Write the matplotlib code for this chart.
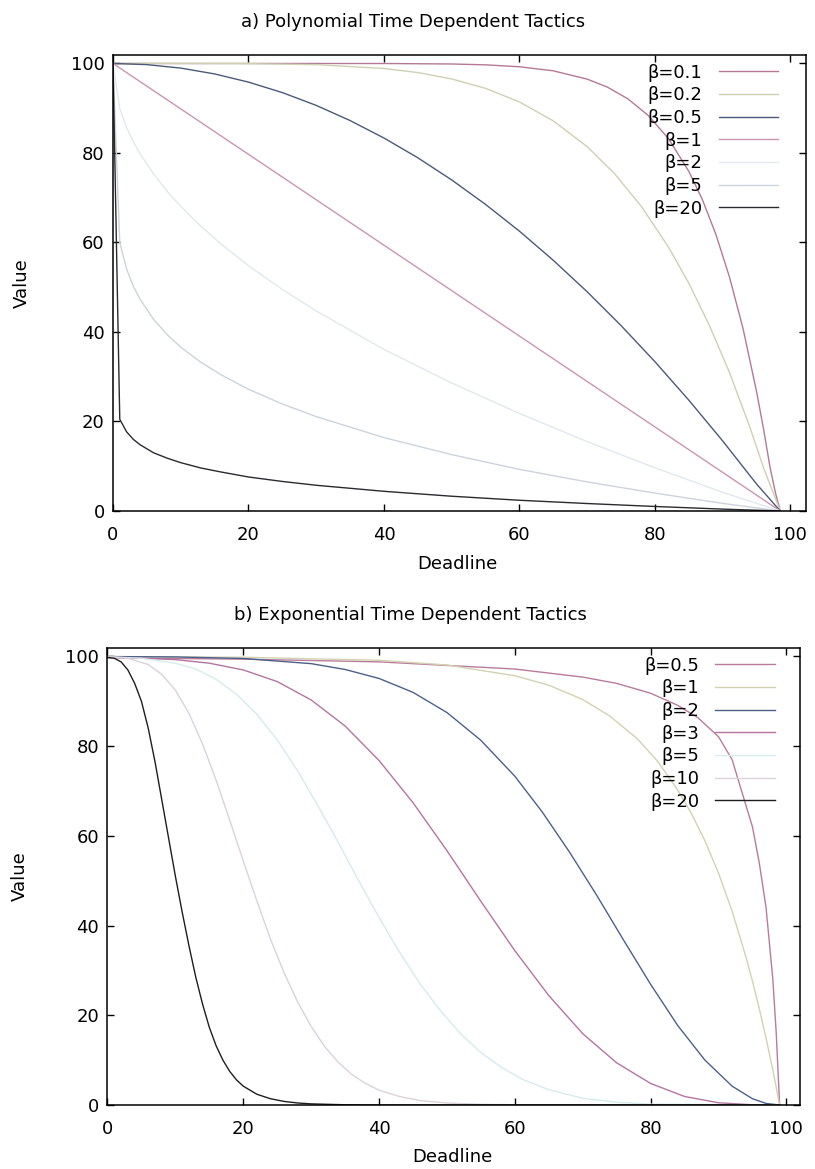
import matplotlib
matplotlib.use("Agg")
import matplotlib.pyplot as plt

plt.rcParams['font.family'] = ['DejaVu Sans']

# ---- a) polynomial tactics: deadline vs value (read off the plot) ----
poly_b01_t = [0, 40, 50, 55, 60, 65, 70, 73, 76, 79, 82, 85, 87, 89, 91, 93, 95, 96, 97, 97.8, 98.5]
poly_b01 = [100, 99.99, 99.88, 99.69, 99.26, 98.35, 96.5, 94.7, 92.1, 88.4, 83.2, 75.9, 69.6, 61.8,
            52.3, 40.8, 26.7, 18.6, 9.7, 4.0, 0]
poly_b02_t = [0, 20, 30, 40, 45, 50, 55, 60, 65, 70, 74, 78, 82, 85, 88, 91, 94, 96, 98.5]
poly_b02 = [100, 99.96, 99.73, 98.87, 97.96, 96.54, 94.43, 91.4, 87.16, 81.4, 75.45, 68.05, 58.98,
            50.9, 41.6, 30.96, 18.8, 9.8, 0]
poly_b05_t = [0, 5, 10, 15, 20, 25, 30, 35, 40, 45, 50, 55, 60, 65, 70, 75, 80, 85, 90, 95, 98.5]
poly_b05 = [100, 99.74, 98.96, 97.66, 95.83, 93.49, 90.63, 87.24, 83.34, 78.92, 73.97, 68.5, 62.52,
            56.01, 48.98, 41.43, 33.36, 24.77, 15.66, 6.03, 0]
poly_b1_t = [0, 98.5]
poly_b1 = [100, 0]
poly_b2_t = [0, 1, 2, 3, 4, 6, 8, 10, 13, 16, 20, 25, 30, 40, 50, 60, 70, 80, 90, 98.5]
poly_b2 = [100, 89.9, 85.7, 82.5, 79.8, 75.3, 71.4, 68.1, 63.6, 59.6, 54.8, 49.5, 44.7, 36.1, 28.6,
           21.8, 15.5, 9.65, 4.17, 0]
poly_b5_t = [0, 1, 2, 3, 4, 6, 8, 10, 13, 16, 20, 25, 30, 40, 50, 60, 70, 80, 90, 98.5]
poly_b5 = [100, 60.0, 54.1, 50.2, 47.3, 42.8, 39.4, 36.6, 33.2, 30.4, 27.2, 23.9, 21.1, 16.4, 12.6,
           9.3, 6.5, 4.0, 1.7, 0]
poly_b20_t = [0, 1, 2, 3, 4, 6, 8, 10, 13, 16, 20, 25, 30, 40, 50, 60, 70, 80, 90, 98.5]
poly_b20 = [100, 20.5, 17.7, 16.0, 14.8, 13.0, 11.8, 10.8, 9.6, 8.7, 7.6, 6.6, 5.75, 4.4, 3.3, 2.4,
            1.67, 1.01, 0.42, 0]
poly_labels = ['β=0.1', 'β=0.2', 'β=0.5', 'β=1', 'β=2', 'β=5', 'β=20']

# ---- b) exponential tactics ----
exp_b05_t = [0, 20, 40, 60, 70, 75, 80, 84, 87, 90, 92, 94, 95, 96, 97, 98, 98.5, 99]
exp_b05 = [99.7, 99.4, 98.8, 97.2, 95.4, 94.0, 91.8, 89.1, 86.3, 82.1, 77.0, 67.0, 62.0, 54.0, 44.0,
           28.0, 16.0, 0]
exp_b1_t = [0, 20, 40, 50, 60, 65, 70, 74, 78, 81, 84, 86, 88, 90, 92, 94, 95, 96, 97, 98, 99]
exp_b1 = [99.97, 99.83, 99.15, 98.1, 95.7, 93.6, 90.4, 86.7, 81.7, 76.7, 70.2, 65.0, 58.9, 51.7, 43.2,
          33.2, 27.6, 21.5, 14.9, 7.8, 0]
exp_b2_t = [0, 10, 20, 30, 35, 40, 45, 50, 55, 60, 64, 68, 72, 76, 80, 84, 88, 92, 95, 97, 99]
exp_b2 = [99.98, 99.9, 99.55, 98.4, 97.1, 95.1, 92.0, 87.5, 81.3, 73.3, 65.4, 56.5, 46.9, 36.8, 26.9,
          17.7, 10.0, 4.2, 1.4, 0.35, 0]
exp_b3_t = [0, 10, 15, 20, 25, 30, 35, 40, 45, 50, 55, 60, 65, 70, 75, 80, 85, 90, 95, 99]
exp_b3 = [99.9, 99.3, 98.5, 97.0, 94.4, 90.3, 84.5, 76.8, 67.4, 56.7, 45.4, 34.4, 24.4, 15.9, 9.4,
          4.8, 1.9, 0.5, 0.05, 0]
exp_b5_t = [0, 5, 10, 13, 16, 19, 22, 25, 28, 31, 34, 37, 40, 43, 46, 49, 52, 55, 58, 61, 65, 70,
            75, 80, 99]
exp_b5 = [99.93, 99.6, 98.5, 97.2, 94.9, 91.6, 87.1, 81.4, 74.5, 66.7, 58.5, 50.0, 41.8, 34.1, 27.1,
          21.1, 15.9, 11.7, 8.4, 5.8, 3.4, 1.5, 0.6, 0.2, 0]
exp_b10_t = [0, 3, 6, 8, 10, 12, 14, 16, 18, 20, 22, 24, 26, 28, 30, 32, 34, 36, 38, 40, 43, 46,
             50, 55, 60, 99]
exp_b10 = [99.94, 99.6, 98.2, 96.0, 92.5, 87.3, 80.5, 72.4, 63.5, 54.4, 45.5, 37.0, 29.5, 23.0, 17.5,
           13.0, 9.5, 6.8, 4.8, 3.3, 1.9, 1.0, 0.45, 0.15, 0.05, 0]
exp_b20_t = [0, 1, 2, 3, 4, 5, 6, 7, 8, 9, 10, 11, 12, 13, 14, 15, 16, 17, 18, 19, 20, 22, 24, 26,
             28, 30, 35, 40, 99]
exp_b20 = [99.8, 99.6, 98.8, 97.0, 94.0, 90.0, 84.0, 76.5, 68.0, 59.5, 51.0, 43.0, 35.5, 28.5, 22.5,
           17.3, 13.2, 10.0, 7.5, 5.6, 4.2, 2.4, 1.4, 0.8, 0.45, 0.25, 0.05, 0, 0]
exp_labels = ['β=0.5', 'β=1', 'β=2', 'β=3', 'β=5', 'β=10', 'β=20']

poly_colors = ['#b37a96', '#cfd0b2', '#4b5a78', '#c996b2', '#e2e8ee', '#cdd3dc', '#2a2a30']
exp_colors = ['#b97b9b', '#d2d2b2', '#4c6189', '#b474a2', '#d6ecec', '#dcd2da', '#1e1e1e']

W, H = 815, 1169
FS = 13
fig = plt.figure(figsize=(W / 100, H / 100), dpi=100)


def setup(ax, xmax):
    ax.set_xlim(0, xmax)
    ax.set_ylim(0, 102)
    ax.set_xticks(range(0, 101, 20))
    ax.set_yticks(range(0, 101, 20))
    ax.tick_params(direction='in', top=True, right=True, length=4.7, width=1, labelsize=FS)
    ax.tick_params(axis='x', pad=11)
    ax.tick_params(axis='y', pad=6)
    for sp in ax.spines.values():
        sp.set_linewidth(1.1)


# panel a sits slightly right of panel b (as on the scanned page)
ax1 = fig.add_axes([113 / W, 1 - 511 / H, 693 / W, 456.5 / H])
series1 = [(poly_b01_t, poly_b01), (poly_b02_t, poly_b02), (poly_b05_t, poly_b05), (poly_b1_t, poly_b1),
           (poly_b2_t, poly_b2), (poly_b5_t, poly_b5), (poly_b20_t, poly_b20)]
for (xs, ys), lab, c in zip(series1, poly_labels, poly_colors):
    ax1.plot(xs, ys, color=c, lw=1.0, label=lab)
setup(ax1, 102.3)

ax2 = fig.add_axes([107.5 / W, 1 - 1105 / H, 692.5 / W, 457.5 / H])
series2 = [(exp_b05_t, exp_b05), (exp_b1_t, exp_b1), (exp_b2_t, exp_b2), (exp_b3_t, exp_b3),
           (exp_b5_t, exp_b5), (exp_b10_t, exp_b10), (exp_b20_t, exp_b20)]
for (xs, ys), lab, c in zip(series2, exp_labels, exp_colors):
    ax2.plot(xs, ys, color=c, lw=1.0, label=lab)
setup(ax2, 102)

for ax, bx in ((ax1, 0.965), (ax2, 0.969)):
    ax.legend(loc='upper right', bbox_to_anchor=(bx, 0.988), frameon=False, markerfirst=False,
              fontsize=FS, handlelength=3.3, handletextpad=0.9, labelspacing=0.26,
              borderaxespad=0, borderpad=0.2)

fig.text(413 / W, 1 - 22 / H, 'a) Polynomial Time Dependent Tactics', ha='center', va='center', fontsize=FS)
fig.text(410 / W, 1 - 615 / H, 'b) Exponential Time Dependent Tactics', ha='center', va='center', fontsize=FS)
fig.text(457 / W, 1 - 564 / H, 'Deadline', ha='center', va='center', fontsize=FS)
fig.text(452 / W, 1 - 1157 / H, 'Deadline', ha='center', va='center', fontsize=FS)
fig.text(22 / W, 1 - 283 / H, 'Value', rotation=90, ha='center', va='center', fontsize=FS)
fig.text(20 / W, 1 - 876 / H, 'Value', rotation=90, ha='center', va='center', fontsize=FS)

fig.savefig('out.png', dpi=100)
